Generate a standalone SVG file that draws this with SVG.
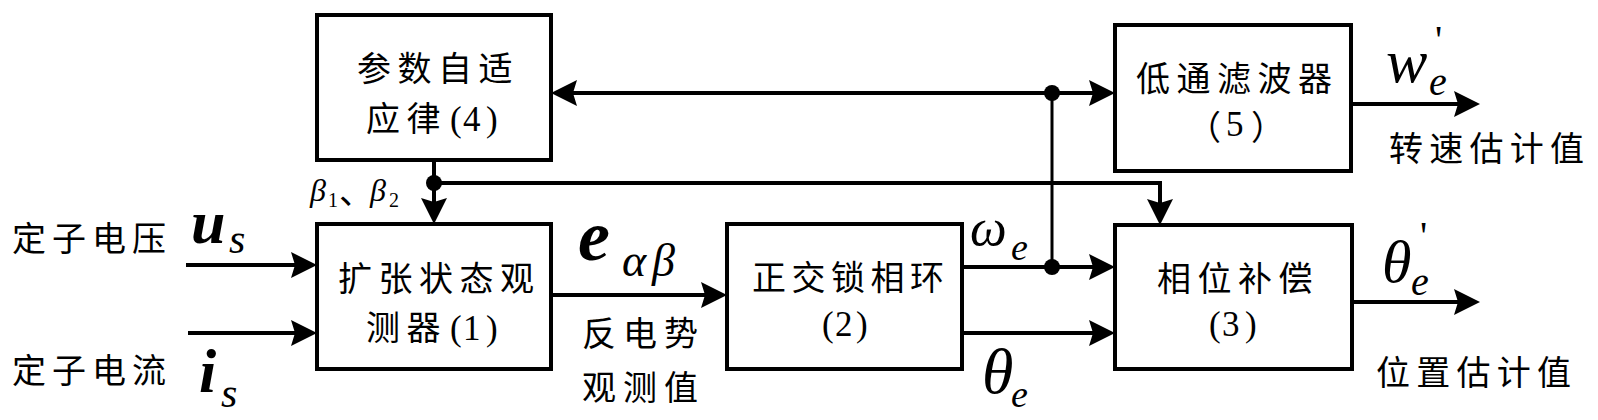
<svg xmlns="http://www.w3.org/2000/svg" width="1598" height="420" viewBox="0 0 1598 420">
<style>
.box{fill:#fff;stroke:#000;stroke-width:4}
.cn{font-family:"Noto Sans CJK SC","Noto Sans CJK JP",sans-serif;font-size:34px;fill:#000}
.tm{font-family:"Liberation Serif","Times New Roman",serif;fill:#000}
.mi{font-family:"Liberation Serif","Times New Roman",serif;font-style:italic;fill:#000}
.mb{font-family:"Liberation Serif","Times New Roman",serif;font-style:italic;font-weight:bold;fill:#000}
.ln{fill:none;stroke:#000;stroke-width:4}
.arr{marker-end:url(#ah)}
</style>
<defs>
<marker id="ah" markerUnits="userSpaceOnUse" viewBox="-27 -14 28 28" markerWidth="28" markerHeight="28" refX="-8" refY="0" orient="auto-start-reverse">
<path d="M0,0 L-26,-13 L-22,0 L-26,13 Z" fill="#000"/>
</marker>
</defs>
<rect width="1598" height="420" fill="#fff"/>

<g id="connectors">
<path class="ln arr" d="M186,265 H309"/>
<path class="ln arr" d="M188,333 H309"/>
<path class="ln arr" d="M551,295 H719"/>
<path class="ln arr" d="M962,267 H1107"/>
<path class="ln arr" d="M962,333 H1107"/>
<path class="ln" d="M559,93 H1107" marker-start="url(#ah)" marker-end="url(#ah)"/>
<path d="M1052,93 V267" fill="none" stroke="#000" stroke-width="3"/>
<path class="ln arr" d="M434,160 V216"/>
<path class="ln arr" d="M434,183 H1160 V217"/>
<path class="ln arr" d="M1351,104 H1472"/>
<path class="ln arr" d="M1352,302 H1472"/>
<circle cx="434" cy="183" r="8" fill="#000"/>
<circle cx="1052" cy="93" r="8" fill="#000"/>
<circle cx="1052" cy="267" r="8" fill="#000"/>
</g>

<g id="node4">
<rect class="box" x="317" y="15" width="234" height="145"/>
<text class="cn" x="357 397.5 438 478.5" y="81">参数自适</text>
<text class="cn" y="131"><tspan x="366 406.5">应律</tspan><tspan class="tm" font-size="35" x="450 463 486">(4)</tspan></text>
</g>

<g id="node1">
<rect class="box" x="317" y="224" width="234" height="145"/>
<text class="cn" x="338 378.5 419 459.5 500" y="291">扩张状态观</text>
<text class="cn" y="340"><tspan x="366 406.5">测器</tspan><tspan class="tm" font-size="35" x="450 463 486">(1)</tspan></text>
</g>

<g id="node2">
<rect class="box" x="727" y="224" width="235" height="145"/>
<text class="cn" x="752 791.5 831 870.5 910" y="290">正交锁相环</text>
<text class="tm" font-size="35" x="822 835 856" y="336">(2)</text>
</g>

<g id="node3">
<rect class="box" x="1115" y="225" width="237" height="144"/>
<text class="cn" x="1157 1197.5 1238 1278.5" y="291">相位补偿</text>
<text class="tm" font-size="35" x="1209 1222 1245" y="336">(3)</text>
</g>

<g id="node5">
<rect class="box" x="1115" y="25" width="236" height="146"/>
<text class="cn" x="1136 1176.5 1217 1257.5 1298" y="91">低通滤波器</text>
<text class="cn" y="140"><tspan x="1187">（</tspan><tspan class="tm" font-size="35" x="1226" y="136">5</tspan><tspan x="1251" y="140">）</tspan></text>
</g>

<g id="labels">
<text class="cn" x="12 52 92 132" y="251">定子电压</text>
<text class="cn" x="12 52 92 132" y="383">定子电流</text>
<text class="mb" font-size="62"><tspan x="191" y="243">u</tspan><tspan class="mi" font-weight="normal" font-size="42" x="229" y="253">s</tspan></text>
<text class="mb" font-size="62"><tspan x="199" y="392">i</tspan><tspan class="mi" font-weight="normal" font-size="42" x="221" y="407">s</tspan></text>

<text class="mi" font-size="32"><tspan x="310" y="201">β</tspan><tspan font-style="normal" font-size="20" x="328" y="207">1</tspan><tspan class="cn" font-style="normal" font-size="26" x="339" y="204">、</tspan><tspan x="370" y="201">β</tspan><tspan font-style="normal" font-size="20" x="389" y="207">2</tspan></text>

<text class="mb" font-size="72"><tspan x="578" y="260">e</tspan><tspan class="mi" font-weight="normal" font-size="46" x="622 652" y="276">αβ</tspan></text>
<text class="cn" x="582 623 664" y="346">反电势</text>
<text class="cn" x="582 623 664" y="400">观测值</text>

<text class="mi" font-size="52"><tspan x="970" y="245">ω</tspan><tspan font-size="38" x="1011" y="260">e</tspan></text>
<text class="mi" font-size="64"><tspan x="982" y="393">θ</tspan><tspan font-size="38" x="1011" y="407">e</tspan></text>

<text class="mi" font-size="62"><tspan x="1386" y="82">w</tspan><tspan font-style="normal" font-size="40" x="1435" y="53">'</tspan><tspan font-size="40" x="1429" y="95">e</tspan></text>
<text class="cn" x="1389 1429.2 1469.5 1509.7 1550" y="161">转速估计值</text>

<text class="mi" font-size="60"><tspan x="1382" y="282">θ</tspan><tspan font-style="normal" font-size="40" x="1420" y="249">'</tspan><tspan font-size="40" x="1411" y="295">e</tspan></text>
<text class="cn" x="1376 1416.2 1456.5 1496.7 1537" y="385">位置估计值</text>
</g>
</svg>
